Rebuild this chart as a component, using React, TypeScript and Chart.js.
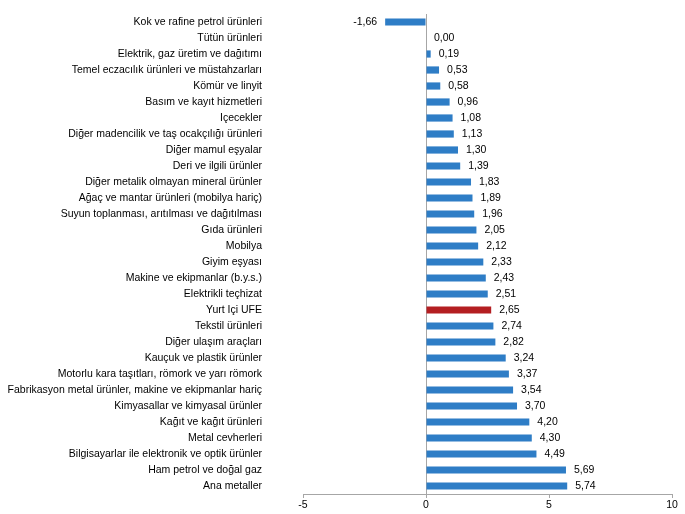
import React, { useEffect, useRef } from "react";
import { Chart, registerables } from "chart.js";

Chart.register(...registerables);

const categories: string[] = [
  "Kok ve rafine petrol ürünleri",
  "Tütün ürünleri",
  "Elektrik, gaz üretim ve dağıtımı",
  "Temel eczacılık ürünleri ve müstahzarları",
  "Kömür ve linyit",
  "Basım ve kayıt hizmetleri",
  "Içecekler",
  "Diğer madencilik ve taş ocakçılığı ürünleri",
  "Diğer mamul eşyalar",
  "Deri ve ilgili ürünler",
  "Diğer metalik olmayan mineral ürünler",
  "Ağaç ve mantar ürünleri (mobilya hariç)",
  "Suyun toplanması, arıtılması ve dağıtılması",
  "Gıda ürünleri",
  "Mobilya",
  "Giyim eşyası",
  "Makine ve ekipmanlar (b.y.s.)",
  "Elektrikli teçhizat",
  "Yurt Içi UFE",
  "Tekstil ürünleri",
  "Diğer ulaşım araçları",
  "Kauçuk ve plastik ürünler",
  "Motorlu kara taşıtları, römork ve yarı römork",
  "Fabrikasyon metal ürünler, makine ve ekipmanlar hariç",
  "Kimyasallar ve kimyasal ürünler",
  "Kağıt ve kağıt ürünleri",
  "Metal cevherleri",
  "Bilgisayarlar ile elektronik ve optik ürünler",
  "Ham petrol ve doğal gaz",
  "Ana metaller",
];

const values: number[] = [
  -1.66, 0.0, 0.19, 0.53, 0.58, 0.96, 1.08, 1.13, 1.3, 1.39, 1.83, 1.89, 1.96,
  2.05, 2.12, 2.33, 2.43, 2.51, 2.65, 2.74, 2.82, 3.24, 3.37, 3.54, 3.7, 4.2,
  4.3, 4.49, 5.69, 5.74,
];

const highlightCategory = "Yurt Içi UFE";
const xMin = -5;
const xMax = 10;
const xStep = 5;

const BLUE = "#2E7DC6";
const RED = "#B41E22";
const AXIS = "#A6A6A6";
const FONT = "'Liberation Sans', Arial, sans-serif";

const fmt = (v: number) => v.toFixed(2).replace(".", ",");

const valueLabels = {
  id: "valueLabels",
  afterDatasetsDraw(chart: any) {
    const ctx = chart.ctx;
    const meta = chart.getDatasetMeta(0);
    ctx.save();
    ctx.font = `10.5px ${FONT}`;
    ctx.fillStyle = "#000";
    ctx.textBaseline = "middle";
    meta.data.forEach((bar: any, i: number) => {
      const v = values[i];
      if (v < 0) {
        ctx.textAlign = "right";
        ctx.fillText(fmt(v), bar.x - 8, bar.y);
      } else {
        ctx.textAlign = "left";
        ctx.fillText(fmt(v), bar.x + 8, bar.y);
      }
    });
    ctx.restore();
  },
};

export default function App() {
  const ref = useRef<HTMLCanvasElement | null>(null);

  useEffect(() => {
    if (!ref.current) return;
    const chart = new Chart(ref.current, {
      type: "bar",
      data: {
        labels: categories,
        datasets: [
          {
            data: values,
            backgroundColor: categories.map((c) =>
              c === highlightCategory ? RED : BLUE
            ),
            barPercentage: 0.45,
            categoryPercentage: 1,
          },
        ],
      },
      options: {
        indexAxis: "y",
        animation: false,
        responsive: false,
        maintainAspectRatio: false,
        layout: { padding: { top: 14, right: 13, bottom: 0, left: 0 } },
        plugins: {
          legend: { display: false },
          tooltip: { enabled: false },
        },
        scales: {
          x: {
            min: xMin,
            max: xMax,
            ticks: {
              stepSize: xStep,
              color: "#000",
              font: { family: FONT, size: 10.5 },
              padding: 1,
            },
            grid: {
              color: (c: any) =>
                c.tick && c.tick.value === 0 ? AXIS : "rgba(0,0,0,0)",
              tickColor: AXIS,
              tickLength: 4,
            },
            border: { display: true, color: AXIS },
            afterFit: (scale: any) => {
              scale.height = 20;
              scale.paddingLeft = 0;
              scale.paddingRight = 0;
            },
          },
          y: {
            ticks: {
              color: "#000",
              font: { family: FONT, size: 10.5 },
              padding: 41,
              autoSkip: false,
            },
            grid: { display: false, drawTicks: false },
            border: { display: false },
            afterFit: (scale: any) => {
              scale.width = 303;
              scale.paddingTop = 0;
              scale.paddingBottom = 0;
            },
          },
        },
      },
      plugins: [valueLabels],
    });
    return () => chart.destroy();
  }, []);

  return (
    <div
      style={{
        position: "fixed",
        left: 0,
        top: 0,
        width: 685,
        height: 514,
        background: "#fff",
      }}
    >
      <canvas
        ref={ref}
        width={685}
        height={514}
        style={{ width: 685, height: 514, display: "block" }}
      />
    </div>
  );
}
